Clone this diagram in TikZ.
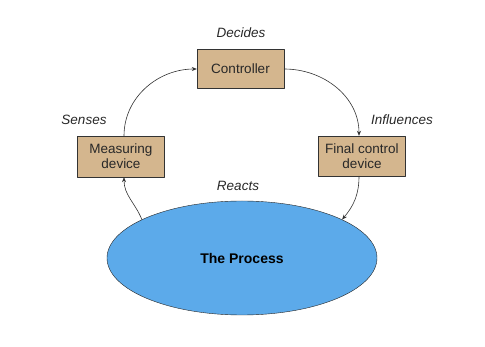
\documentclass[tikz,border=0pt]{standalone}
\usepackage{fontspec}
\setmainfont{Liberation Sans}
\usetikzlibrary{arrows.meta,shapes.geometric}

\definecolor{boxtan}{RGB}{212,182,142}
\definecolor{procblue}{RGB}{92,170,234}
\definecolor{txtgray}{RGB}{40,40,40}

\tikzset{
  unitbox/.style={draw=black!80, fill=boxtan, minimum width=87pt, minimum height=39pt,
    align=center, font=\fontsize{13.5}{15}\selectfont, text=txtgray, inner sep=2pt},
  actlabel/.style={font=\itshape\fontsize{13.5}{15}\selectfont, text=txtgray},
  flow/.style={black!80, line width=0.6pt, -{Stealth[length=5pt,width=4pt]}}
}

\begin{document}
\begin{tikzpicture}[x=1pt, y=-1pt, line cap=round, line join=round]

\useasboundingbox (0,0) rectangle (485,347);

\node[unitbox] (ctrl) at (240.5,69) {Controller};
\node[unitbox, minimum height=41pt] (meas) at (121,156.5) {Measuring\\device};
\node[unitbox, minimum height=40pt] (fcd) at (362,156) {Final control\\device};
\node[ellipse, draw=black!85, fill=procblue, minimum width=270pt, minimum height=114pt,
  font=\bfseries\fontsize{14}{16}\selectfont] (proc) at (242,258) {The Process};

\node[actlabel] (decides) at (241,33) {Decides};
\node[actlabel] (senses) at (84,120) {Senses};
\node[actlabel] (influences) at (402,120) {Influences};
\node[actlabel] (reacts) at (238,186) {Reacts};

% the loop
\draw[flow] (proc.159) to[out=112, in=-90] ([xshift=3pt]meas.south);
\draw[flow] ([xshift=3pt]meas.north) to[out=90, in=180] (ctrl.west);
\draw[flow] (ctrl.east) to[out=0, in=90] ([xshift=-3pt]fcd.north);
\draw[flow] ([xshift=-3pt]fcd.south) to[out=-90, in=50] (proc.21);

\end{tikzpicture}
\end{document}
